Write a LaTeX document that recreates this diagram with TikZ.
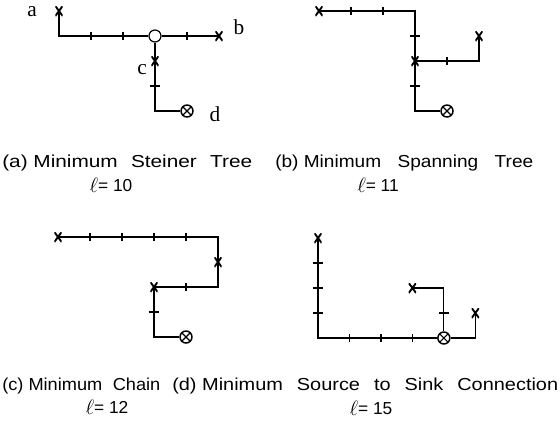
\documentclass[tikz,border=0pt]{standalone}
\usepackage{fontspec}
\setmainfont{Liberation Serif}
\newfontfamily\capfont{Liberation Sans}
\newcommand{\capt}[3]{\scalebox{#1}[1]{\makebox[#2]{#3}}}
\newcommand{\bigell}{\raisebox{-0.5pt}{\scalebox{1.3}{$\ell$}}}
\tikzset{
  wire/.style={line width=0.9pt},
  term/.style={inner sep=0pt, minimum width=5.5pt, minimum height=7.5pt,
    path picture={\draw[line width=1.4pt]
      (path picture bounding box.south west) -- (path picture bounding box.north east)
      (path picture bounding box.north west) -- (path picture bounding box.south east);}},
  sinknode/.style={circle, draw, line width=1.1pt, minimum size=9pt, inner sep=0pt, fill=white,
    path picture={\draw[line width=0.9pt]
      (path picture bounding box.south west) -- (path picture bounding box.north east)
      (path picture bounding box.north west) -- (path picture bounding box.south east);}},
  steiner/.style={circle, draw, line width=0.9pt, minimum size=9pt, inner sep=0pt, fill=white},
  lbl/.style={inner sep=0pt, font=\fontsize{16}{18}\selectfont},
  captn/.style={inner sep=0pt, anchor=base west, font=\capfont\fontsize{13}{15}\selectfont},
  lenlbl/.style={inner sep=0pt, font=\capfont\fontsize{13}{15}\selectfont},
  vt/.pic={\draw[wire] (0,-3pt) -- (0,3pt);},
  ht/.pic={\draw[wire] (-4pt,0) -- (4pt,0);}
}
\begin{document}
\begin{tikzpicture}[x=0.75pt,y=-0.75pt]
\fill[white] (0,0) rectangle (560,425);
\useasboundingbox (0,0) rectangle (560,425);

% ---------- (a) Minimum Steiner Tree ----------
\begin{scope}[shift={(59,11)}, x=24pt, y=-18.75pt]
  \node[term] (aA) at (0,0) {};
  \node[steiner] (sA) at (3,1) {};
  \node[term] (bA) at (5,1) {};
  \node[term] (cA) at (3,2) {};
  \node[sinknode] (dA) at (4,4) {};
  \draw[wire] (aA.center) |- (sA.west);
  \draw[wire] (sA.east) -- (bA.center);
  \draw[wire] (sA.south) -- (cA.center) |- (dA.west);
  \pic at (1,1) {vt}; \pic at (2,1) {vt}; \pic at (4,1) {vt};
  \pic at (3,3) {ht};
\end{scope}
\node[lbl] (la) at (32,12) {a};
\node[lbl] (lb) at (239,27) {b};
\node[lbl] (lc) at (142,70) {c};
\node[lbl] (ld) at (215,114) {d};

% ---------- (b) Minimum Spanning Tree ----------
\begin{scope}[shift={(319,11)}, x=24pt, y=-18.75pt]
  \node[term] (aB) at (0,0) {};
  \node[term] (cB) at (3,2) {};
  \node[term] (bB) at (5,1) {};
  \node[sinknode] (dB) at (4,4) {};
  \draw[wire] (aB.center) -| (cB.center);
  \draw[wire] (cB.center) |- (dB.west);
  \draw[wire] (cB.center) -| (bB.center);
  \pic at (1,0) {vt}; \pic at (2,0) {vt}; \pic at (4,2) {vt};
  \pic at (3,1) {ht}; \pic at (3,3) {ht};
\end{scope}

% ---------- (c) Minimum Chain ----------
\begin{scope}[shift={(58,237)}, x=24pt, y=-18.75pt]
  \node[term] (aC) at (0,0) {};
  \node[term] (bC) at (5,1) {};
  \node[term] (cC) at (3,2) {};
  \node[sinknode] (dC) at (4,4) {};
  \draw[wire] (aC.center) -| (bC.center);
  \draw[wire] (bC.center) |- (cC.center);
  \draw[wire] (cC.center) |- (dC.west);
  \pic at (1,0) {vt}; \pic at (2,0) {vt}; \pic at (3,0) {vt}; \pic at (4,0) {vt};
  \pic at (4,2) {vt};
  \pic at (3,3) {ht};
\end{scope}

% ---------- (d) Minimum Source to Sink Connection ----------
\begin{scope}[shift={(318,238)}, x=23.6pt, y=-18.75pt]
  \node[term] (aD) at (0,0) {};
  \node[term] (cD) at (3,2) {};
  \node[term] (bD) at (5,3) {};
  \node[sinknode] (dD) at (4,4) {};
  \draw[wire] (aD.center) |- (dD.west);
  \draw[wire] (cD.center) -| (dD.north);
  \draw[wire] (dD.east) -| (bD.center);
  \pic at (0,1) {ht}; \pic at (0,2) {ht}; \pic at (0,3) {ht};
  \pic at (4,3) {ht};
  \pic at (1,4) {vt}; \pic at (2,4) {vt}; \pic at (3,4) {vt};
\end{scope}

% ---------- captions ----------
\node[captn] (capA) at (2,167) {\capt{1.2}{156.2pt}{(a) Minimum\hfill Steiner\hfill Tree}};
\node[captn] (capB) at (275,167) {\capt{1.1}{175.9pt}{(b) Minimum\hfill Spanning\hfill Tree}};
\node[captn] (capC) at (2,390) {\capt{1.05}{112.9pt}{(c) Minimum\hfill Chain}};
\node[captn] (capD) at (172,390) {\capt{1.15}{251.7pt}{(d) Minimum\hfill Source\hfill to\hfill Sink\hfill Connection}};

\node[lenlbl] (lenA) at (111,185) {\bigell= 10};
\node[lenlbl] (lenB) at (378,185) {\bigell= 11};
\node[lenlbl] (lenC) at (107,407) {\bigell= 12};
\node[lenlbl] (lenD) at (371,408) {\bigell= 15};
\end{tikzpicture}
\end{document}
